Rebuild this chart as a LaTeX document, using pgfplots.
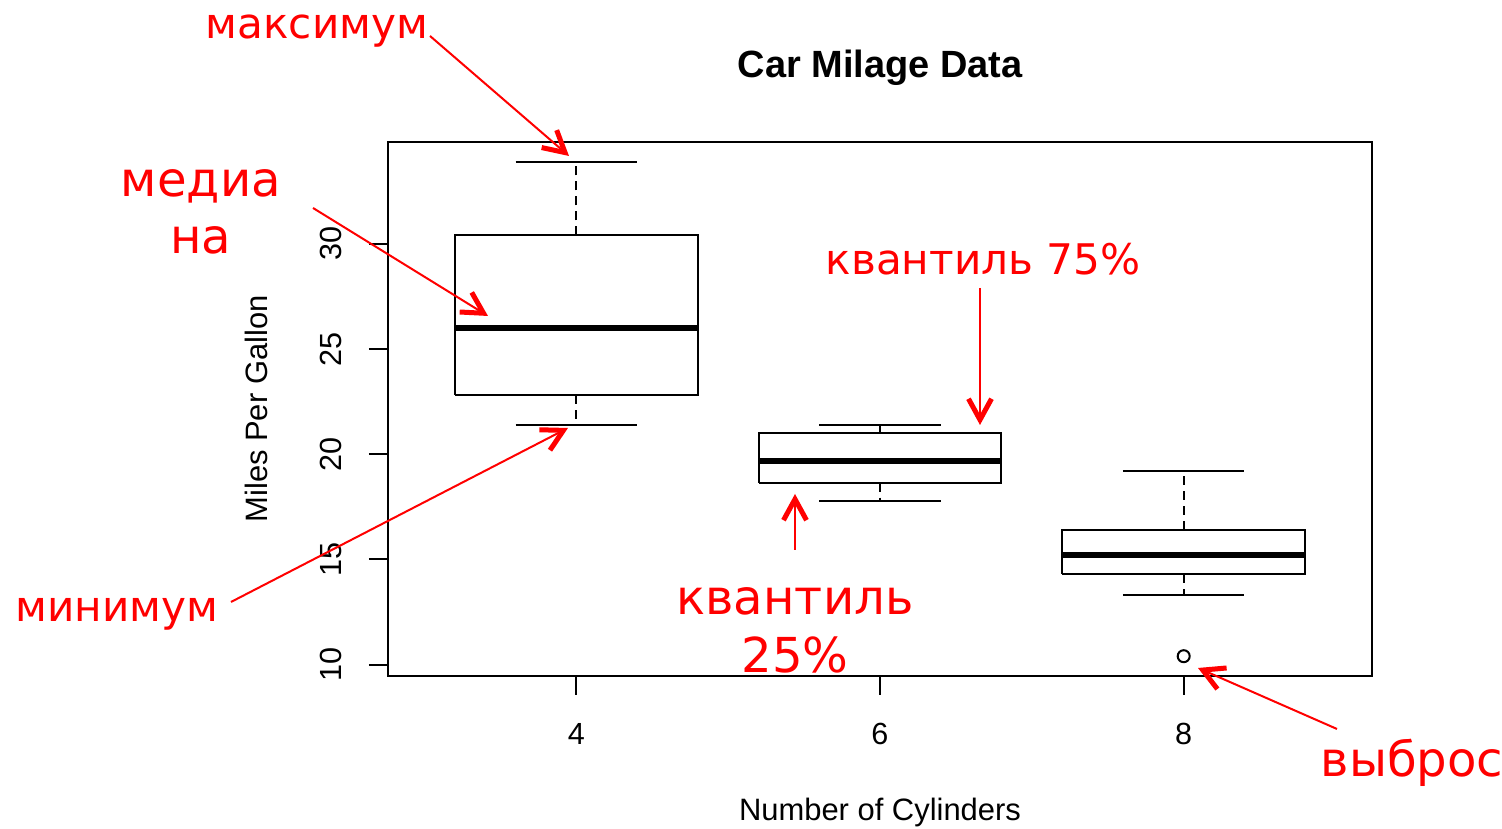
\documentclass[border=0pt]{standalone}
\usepackage{fontspec}
\setmainfont{Liberation Sans}
\newfontfamily\ru{DejaVu Sans}
\usepackage{pgfplots}
\pgfplotsset{compat=1.18}
\usetikzlibrary{arrows.meta}

\begin{document}
\begin{tikzpicture}
\begin{axis}[
  at={(0,0)}, anchor=south west,
  scale only axis, width=9.84cm, height=5.34cm,
  xmin=0.38, xmax=3.62, ymin=9.46, ymax=34.84,
  xtick={1,2,3}, xticklabels={4,6,8},
  ytick={10,15,20,25,30},
  xtick pos=bottom, ytick pos=left,
  tick align=outside, major tick length=1.9mm,
  every tick/.style={black, line width=0.2mm},
  axis line style={line width=0.2mm},
  unbounded coords=jump,
  /pgf/number format/assume math mode=true,
  ticklabel style={font=\fontsize{8.7}{10}\selectfont},
  xticklabel style={anchor=base, yshift=-5.0mm},
  yticklabel style={xshift=-2.7mm, rotate=90, anchor=base},
  title={Car Milage Data},
  every axis title shift=0pt,
  title style={at={(0.5,1.1199)}, anchor=base, font=\bfseries\fontsize{10.8}{12}\selectfont},
  xlabel={Number of Cylinders},
  xlabel style={at={(0.5,-0.2715)}, anchor=base, font=\fontsize{8.8}{10}\selectfont},
  ylabel={Miles Per Gallon},
  ylabel style={at={(-0.122,0.5)}, anchor=base, font=\fontsize{8.8}{10}\selectfont},
]
% whisker stems (dashed): hinge -> whisker end
\addplot[black, line width=0.2mm, dash pattern=on 0.9mm off 0.6mm] coordinates {
  (1,30.4)(1,33.9) (nan,nan) (1,22.8)(1,21.4) (nan,nan)
  (2,21.0)(2,21.4) (nan,nan) (2,18.65)(2,17.8) (nan,nan)
  (3,16.4)(3,19.2) (nan,nan) (3,14.3)(3,13.3)
};
% boxes (lower to upper hinge) and whisker caps
\addplot[black, line width=0.2mm, line join=miter] coordinates {
  (0.6,22.8)(1.4,22.8)(1.4,30.4)(0.6,30.4)(0.6,22.8) (nan,nan)
  (0.8,33.9)(1.2,33.9) (nan,nan) (0.8,21.4)(1.2,21.4) (nan,nan)
  (1.6,18.65)(2.4,18.65)(2.4,21.0)(1.6,21.0)(1.6,18.65) (nan,nan)
  (1.8,21.4)(2.2,21.4) (nan,nan) (1.8,17.8)(2.2,17.8) (nan,nan)
  (2.6,14.3)(3.4,14.3)(3.4,16.4)(2.6,16.4)(2.6,14.3) (nan,nan)
  (2.8,19.2)(3.2,19.2) (nan,nan) (2.8,13.3)(3.2,13.3)
};
% medians
\addplot[black, line width=0.6mm] coordinates {
  (0.6,26.0)(1.4,26.0) (nan,nan) (1.6,19.7)(2.4,19.7) (nan,nan) (2.6,15.2)(3.4,15.2)
};
% outlier
\addplot[only marks, black, mark=o, mark size=0.6mm, mark options={line width=0.2mm}] coordinates {(3,10.4)};
\end{axis}

% annotations, in pixel units of the reference
\begin{scope}[x=0.1mm, y=-0.1mm, shift={(-38.8mm,67.6mm)},
  txt/.style={red, font=\ru\fontsize{12}{14}\selectfont, inner sep=0pt},
  big/.style={red, font=\ru\fontsize{13.7}{16}\selectfont, inner sep=0pt},
  arr/.style={red, line width=0.2mm, -{Straight Barb[length=2.1mm, width=2.3mm, line width=0.5mm]}}]
  \node[txt, anchor=base west] at (205,39) {максимум};
  \node[big, anchor=base] at (201,197) {медиа};
  \node[big, anchor=base] at (201,254) {на};
  \node[txt, anchor=base west] at (15,622) {минимум};
  \node[txt, anchor=base west] at (825,275) {квантиль 75\%};
  \node[big, anchor=base] at (795,615) {квантиль};
  \node[big, anchor=base] at (795,673) {25\%};
  \node[big, anchor=base west] at (1320,777) {выброс};
  \draw[arr] (430,36) -- (569,156);
  \draw[arr] (313,208) -- (488,316);
  \draw[arr] (231,602) -- (568,428);
  \draw[arr] (980,288) -- (980,425);
  \draw[arr] (795,550) -- (795,494);
  \draw[arr] (1337,729) -- (1198,668);
  \pgfresetboundingbox
  \path[use as bounding box] (0,0) rectangle (1502,829);
\end{scope}
\end{tikzpicture}
\end{document}
